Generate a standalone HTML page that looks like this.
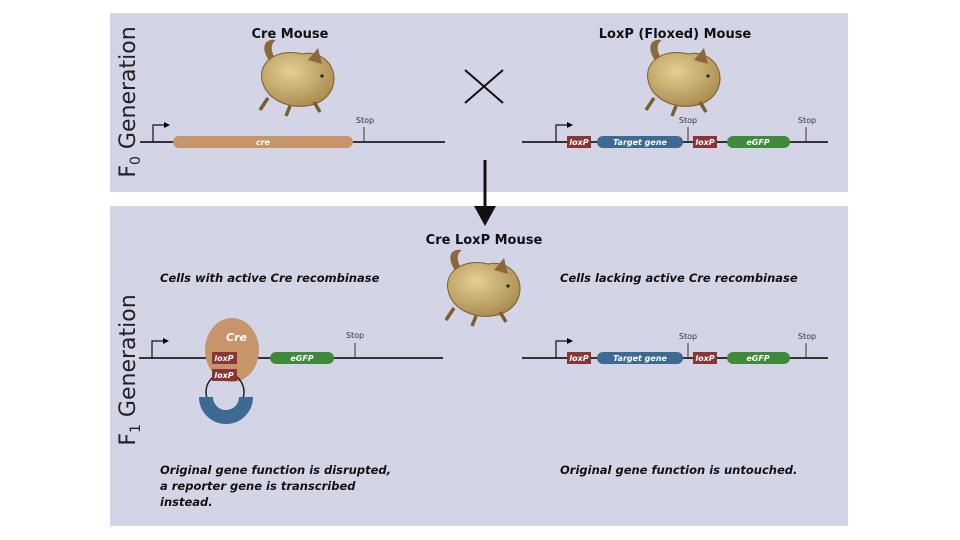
<!DOCTYPE html>
<html><head><meta charset="utf-8"><style>
body{margin:0;background:#fff;}
svg{display:block;font-family:"DejaVu Sans","Liberation Sans",sans-serif;}
.b{font-weight:bold;font-size:13px;fill:#111;}
.i{font-weight:bold;font-style:italic;font-size:11.5px;fill:#111;}
.s{font-size:8px;fill:#333;}
.g{font-size:8px;font-style:italic;font-weight:bold;fill:#fff;}
</style></head><body>
<svg width="960" height="540" viewBox="0 0 960 540">
<defs>
<radialGradient id="fur" cx="0.4" cy="0.35" r="0.7">
<stop offset="0" stop-color="#e3cf95"/><stop offset="1" stop-color="#a98a4c"/>
</radialGradient>
<g id="mouse">
<path d="M20 26 C10 12 14 2 26 4 C20 8 20 16 28 26" fill="#8a6a3c"/>
<path d="M12 44 C8 24 30 12 52 18 C68 14 84 26 84 42 C84 58 72 68 56 70 C38 72 16 64 12 44Z" fill="url(#fur)" stroke="#7a5f2e" stroke-width="1"/>
<path d="M58 24 L68 12 L72 28Z" fill="#8a6a3c"/>
<path d="M18 62 L10 74 M40 70 L36 80 M64 66 L70 76" stroke="#7a5f2e" stroke-width="3.5" fill="none"/>
<circle cx="72" cy="40" r="1.6" fill="#222"/>
</g>
</defs>
<rect x="110" y="13" width="738" height="179" fill="#d3d5e6"/>
<rect x="110" y="206" width="738" height="320" fill="#d3d5e6"/>
<text transform="translate(135,102) rotate(-90)" text-anchor="middle" font-size="22" fill="#222" font-family="DejaVu Sans,sans-serif">F<tspan font-size="14" dy="5">0</tspan><tspan dy="-5"> Generation</tspan></text>
<text transform="translate(135,370) rotate(-90)" text-anchor="middle" font-size="22" fill="#222" font-family="DejaVu Sans,sans-serif">F<tspan font-size="14" dy="5">1</tspan><tspan dy="-5"> Generation</tspan></text>
<text x="290" y="38" class="b" text-anchor="middle">Cre Mouse</text>
<text x="675" y="38" class="b" text-anchor="middle">LoxP (Floxed) Mouse</text>
<use href="#mouse" x="250" y="36"/>
<use href="#mouse" x="636" y="36"/>
<use href="#mouse" x="436" y="246"/>
<path d="M465 70 L503 103 M503 70 L465 103" stroke="#111" stroke-width="2"/>
<line x1="140" y1="142" x2="445" y2="142" stroke="#333" stroke-width="2"/>
<path d="M153 142 V125 H166" stroke="#111" fill="none" stroke-width="1.2"/><path d="M164 122 L170 125 L164 128Z"/>
<rect x="173" y="136" width="180" height="12" rx="6" fill="#c8946a"/>
<text x="263" y="145" class="g" text-anchor="middle">cre</text>
<line x1="364" y1="127" x2="364" y2="142" stroke="#333"/><text x="365" y="123" class="s" text-anchor="middle">Stop</text>
<g id="flox">
<line x1="522" y1="142" x2="828" y2="142" stroke="#333" stroke-width="2"/>
<path d="M556 142 V125 H568" stroke="#111" fill="none" stroke-width="1.2"/><path d="M567 122 L573 125 L567 128Z"/>
<rect x="567" y="136" width="24" height="12" fill="#8b3434"/><text x="579" y="145" class="g" text-anchor="middle">loxP</text>
<rect x="597" y="136" width="86" height="12" rx="6" fill="#3d6a93"/><text x="640" y="145" class="g" text-anchor="middle">Target gene</text>
<line x1="688" y1="127" x2="688" y2="142" stroke="#333"/><text x="688" y="123" class="s" text-anchor="middle">Stop</text>
<rect x="693" y="136" width="24" height="12" fill="#8b3434"/><text x="705" y="145" class="g" text-anchor="middle">loxP</text>
<rect x="727" y="136" width="63" height="12" rx="6" fill="#3f8a3a"/><text x="758" y="145" class="g" text-anchor="middle">eGFP</text>
<line x1="806" y1="127" x2="806" y2="142" stroke="#333"/><text x="807" y="123" class="s" text-anchor="middle">Stop</text>
</g>
<use href="#flox" x="0" y="216"/>
<line x1="485" y1="160" x2="485" y2="208" stroke="#111" stroke-width="3"/>
<path d="M474 206 L496 206 L485 226Z" fill="#111"/>
<text x="484" y="244" class="b" text-anchor="middle">Cre LoxP Mouse</text>
<text x="160" y="282" class="i">Cells with active Cre recombinase</text>
<text x="560" y="282" class="i">Cells lacking active Cre recombinase</text>
<line x1="139" y1="358" x2="443" y2="358" stroke="#333" stroke-width="2"/>
<path d="M152 358 V341 H164" stroke="#111" fill="none" stroke-width="1.2"/><path d="M163 338 L169 341 L163 344Z"/>
<ellipse cx="232" cy="350" rx="27" ry="32" fill="#c8946a"/>
<text x="226" y="341" font-size="11" font-weight="bold" font-style="italic" fill="#fff">Cre</text>
<circle cx="225" cy="392" r="19" fill="none" stroke="#222" stroke-width="1.5"/>
<path d="M206 397 A20 20 0 0 0 246 397" fill="none" stroke="#3d6a93" stroke-width="14"/>
<rect x="212" y="352" width="25" height="12" fill="#8b3434"/><text x="224" y="361" class="g" text-anchor="middle">loxP</text>
<rect x="212" y="369" width="25" height="12" fill="#8b3434"/><text x="224" y="378" class="g" text-anchor="middle">loxP</text>
<rect x="270" y="352" width="64" height="12" rx="6" fill="#3f8a3a"/><text x="302" y="361" class="g" text-anchor="middle">eGFP</text>
<line x1="355" y1="343" x2="355" y2="358" stroke="#333"/><text x="355" y="338" class="s" text-anchor="middle">Stop</text>
<text x="160" y="474" class="i">Original gene function is disrupted,</text>
<text x="160" y="490" class="i">a reporter gene is transcribed</text>
<text x="160" y="506" class="i">instead.</text>
<text x="560" y="474" class="i">Original gene function is untouched.</text>
</svg>
</body></html>
